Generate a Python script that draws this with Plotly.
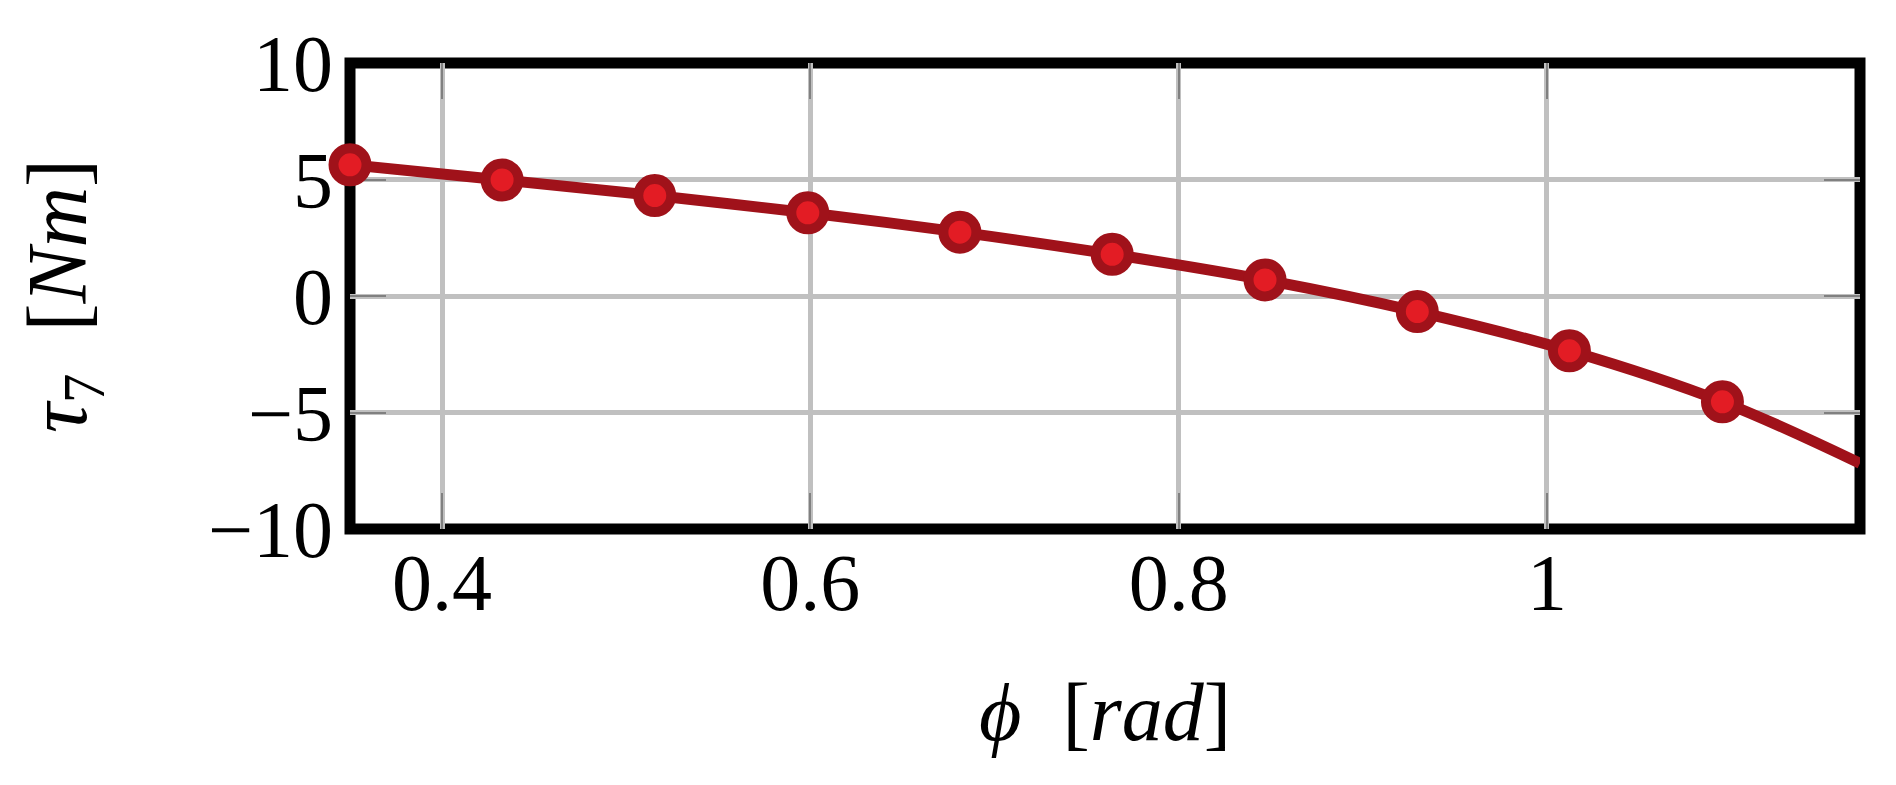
import plotly.graph_objects as go

# Marker samples
phi = [0.35, 0.4326, 0.5155, 0.5986, 0.6812, 0.7639, 0.8469, 0.9296, 1.0122, 1.0953]
tau = [5.63, 4.98, 4.31, 3.57, 2.74, 1.79, 0.69, -0.67, -2.35, -4.54]
# End of the continuous curve at the right edge
phi_end = 1.17
tau_end = -7.18

x_ticks = [0.4, 0.6, 0.8, 1.0]
x_ticklabels = ["0.4", "0.6", "0.8", "1"]
y_ticks = [-10, -5, 0, 5, 10]

DARK = "#A0121A"
LIGHT = "#E31C24"
FONT = "Liberation Serif"

fig = go.Figure()
fig.add_trace(go.Scatter(
    x=phi + [phi_end], y=tau + [tau_end], mode="lines",
    line=dict(color=DARK, width=11, shape="spline"),
    hoverinfo="skip", showlegend=False,
))
fig.add_trace(go.Scatter(
    x=phi, y=tau, mode="markers",
    marker=dict(size=33, color=LIGHT, line=dict(color=DARK, width=10)),
    cliponaxis=False, showlegend=False,
))

fig.add_shape(type="rect", xref="paper", yref="paper", x0=0, x1=1, y0=0, y1=1,
              line=dict(color="black", width=11), layer="between")

axis_common = dict(
    showgrid=True, gridcolor="#C0C0C0", gridwidth=5,
    zeroline=False,
    ticks="inside", ticklen=36, tickwidth=2, tickcolor="#808080",
    showline=True, linecolor="rgba(0,0,0,0)", linewidth=1, mirror="ticks",
    layer="below traces",
    tickfont=dict(family=FONT, size=80, color="black"),
)

fig.update_xaxes(
    range=[0.35, 1.17], tickvals=x_ticks, ticktext=x_ticklabels,
    ticklabelstandoff=-16,
    title=dict(text="<i>ϕ</i>\u00a0\u00a0[<i>rad</i>]", font=dict(family=FONT, size=82, color="black"), standoff=56),
    **axis_common,
)
fig.update_yaxes(
    range=[-10, 10], tickvals=y_ticks,
    title=dict(text="<i>τ</i><sub>7</sub>\u00a0\u00a0[<i>Nm</i>]", font=dict(family=FONT, size=84, color="black"), standoff=93),
    **axis_common,
)

fig.update_layout(
    width=1880, height=769,
    margin=dict(l=342, r=28, t=55, b=248),
    paper_bgcolor="white", plot_bgcolor="white",
    font=dict(family=FONT, color="black"),
)

fig.write_html("out.html")
